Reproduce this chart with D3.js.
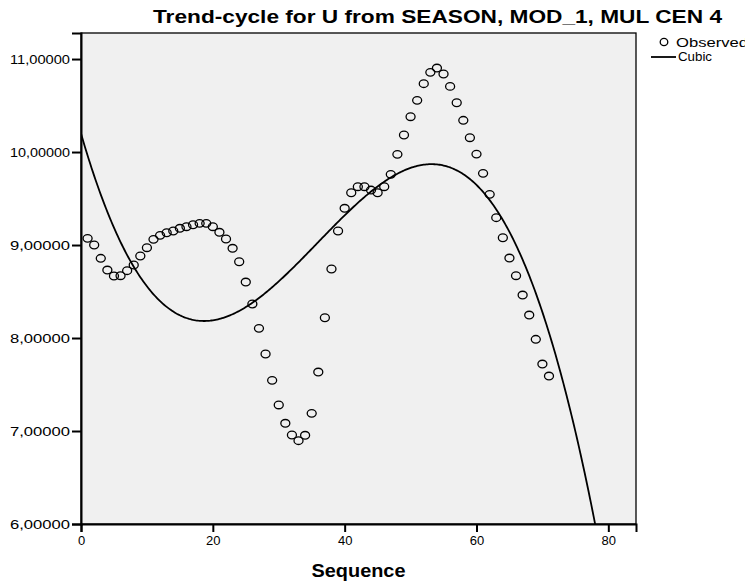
<!DOCTYPE html>
<html lang="en">
<head>
<meta charset="utf-8">
<title>Trend-cycle for U from SEASON, MOD_1, MUL CEN 4</title>
<script src="https://cdn.jsdelivr.net/npm/d3@7"></script>
<style>
  body { margin: 0; background: #fff; }
  text { font-family: "Liberation Sans", Arial, sans-serif; fill: #000; }
</style>
</head>
<body>
<script>
// chart values
var chartTitle = "Trend-cycle for U from SEASON, MOD_1, MUL CEN 4";
var xTitle = "Sequence";
var seriesNames = ["Observed", "Cubic"];
var xTicks = [0, 20, 40, 60, 80];
var yTicks = [6, 7, 8, 9, 10, 11];

// trend-cycle values, sequence 1..71
var observed = [
  9.072, 9.000, 8.857, 8.731, 8.667, 8.670, 8.724, 8.785, 8.882, 8.971,
  9.061, 9.104, 9.132, 9.151, 9.180, 9.197, 9.218, 9.233, 9.233, 9.197,
  9.137, 9.065, 8.965, 8.820, 8.602, 8.366, 8.104, 7.828, 7.545, 7.280,
  7.083, 6.957, 6.896, 6.954, 7.190, 7.634, 8.218, 8.742, 9.151, 9.395,
  9.562, 9.627, 9.627, 9.591, 9.562, 9.627, 9.760, 9.975, 10.183, 10.380,
  10.556, 10.735, 10.857, 10.903, 10.839, 10.706, 10.530, 10.341, 10.154, 9.978,
  9.771, 9.545, 9.294, 9.078, 8.860, 8.670, 8.462, 8.247, 7.986, 7.720,
  7.591
];
var sequence = observed.map(function(d, i) { return i + 1; });

var w = 745, h = 581;
var plot = { left: 81, top: 33, right: 636, bottom: 524 };

var svg = d3.select("body").append("svg")
  .attr("width", w)
  .attr("height", h);

var x = d3.scaleLinear().domain([0, 84.2]).range([plot.left, plot.right]);
var y = d3.scaleLinear().domain([6, 11.28]).range([plot.bottom, plot.top]);

// least squares cubic, like the SPSS curve estimation
function cubicFit(xs, ys) {
  var A = [], b = [];
  for (var i = 0; i < 4; i++) {
    A.push([0, 0, 0, 0]);
    b.push(0);
  }
  xs.forEach(function(xv, k) {
    for (var i = 0; i < 4; i++) {
      b[i] += ys[k] * Math.pow(xv, i);
      for (var j = 0; j < 4; j++) A[i][j] += Math.pow(xv, i + j);
    }
  });
  // gaussian elimination
  for (var c = 0; c < 4; c++) {
    var p = c;
    for (var r = c + 1; r < 4; r++) if (Math.abs(A[r][c]) > Math.abs(A[p][c])) p = r;
    var t = A[c]; A[c] = A[p]; A[p] = t;
    t = b[c]; b[c] = b[p]; b[p] = t;
    for (var r = c + 1; r < 4; r++) {
      var f = A[r][c] / A[c][c];
      for (var j = c; j < 4; j++) A[r][j] -= f * A[c][j];
      b[r] -= f * b[c];
    }
  }
  var coef = [0, 0, 0, 0];
  for (var r = 3; r >= 0; r--) {
    var s = b[r];
    for (var j = r + 1; j < 4; j++) s -= A[r][j] * coef[j];
    coef[r] = s / A[r][r];
  }
  return coef;
}
var coef = cubicFit(sequence, observed);
function cubic(v) { return coef[0] + coef[1] * v + coef[2] * v * v + coef[3] * v * v * v; }

// plot background
svg.append("rect")
  .attr("x", plot.left).attr("y", plot.top)
  .attr("width", plot.right - plot.left)
  .attr("height", plot.bottom - plot.top)
  .attr("fill", "#f0f0f0");

svg.append("clipPath").attr("id", "clip")
  .append("rect")
  .attr("x", plot.left).attr("y", plot.top)
  .attr("width", plot.right - plot.left)
  .attr("height", plot.bottom - plot.top);

// cubic line across the whole axis range
var curveX = d3.range(0, 84.3, 0.2);
var line = d3.line()
  .x(function(d) { return x(d); })
  .y(function(d) { return y(cubic(d)); });

svg.append("path")
  .datum(curveX)
  .attr("clip-path", "url(#clip)")
  .attr("d", line)
  .attr("fill", "none")
  .attr("stroke", "#000")
  .attr("stroke-width", 1.8);

// observed points
svg.append("g")
  .attr("clip-path", "url(#clip)")
  .selectAll("ellipse")
  .data(observed)
  .enter()
  .append("ellipse")
  .attr("cx", function(d, i) { return x(sequence[i]); })
  .attr("cy", function(d) { return y(d); })
  .attr("rx", 4.5)
  .attr("ry", 3.8)
  .attr("fill", "none")
  .attr("stroke", "#000")
  .attr("stroke-width", 1.3);

// frame
svg.append("rect")
  .attr("x", plot.left).attr("y", plot.top)
  .attr("width", plot.right - plot.left)
  .attr("height", plot.bottom - plot.top)
  .attr("fill", "none")
  .attr("stroke", "#000")
  .attr("stroke-width", 1.3);

// axes
var fmt = d3.format(".5f");
var yAxis = d3.axisLeft(y)
  .tickValues(yTicks)
  .tickSize(9)
  .tickPadding(2)
  .tickFormat(function(d) { return fmt(d).replace(".", ","); });
var xAxis = d3.axisBottom(x)
  .tickValues(xTicks)
  .tickSize(8)
  .tickPadding(4);

var gy = svg.append("g")
  .attr("transform", "translate(" + plot.left + ",0)")
  .call(yAxis);
var gx = svg.append("g")
  .attr("transform", "translate(0," + plot.bottom + ")")
  .call(xAxis);

[gx, gy].forEach(function(g) {
  g.select(".domain").attr("stroke", "#000").attr("stroke-width", 2);
  g.selectAll(".tick line").attr("stroke", "#000").attr("stroke-width", 2);
  g.selectAll(".tick text")
    .attr("font-family", "'Liberation Sans', Arial, sans-serif")
    .attr("font-size", 13)
    .attr("fill", "#000");
});
gy.selectAll(".tick text")
  .attr("font-size", 12.5)
  .attr("textLength", 60)
  .attr("lengthAdjust", "spacingAndGlyphs");

// titles
svg.append("text")
  .attr("x", 153).attr("y", 23)
  .attr("font-size", 17.5)
  .attr("font-weight", "bold")
  .attr("textLength", 569)
  .attr("lengthAdjust", "spacingAndGlyphs")
  .text(chartTitle);

svg.append("text")
  .attr("x", (plot.left + plot.right) / 2).attr("y", 577)
  .attr("text-anchor", "middle")
  .attr("font-size", 17.5)
  .attr("font-weight", "bold")
  .attr("textLength", 94)
  .attr("lengthAdjust", "spacingAndGlyphs")
  .text(xTitle);

// legend
var legend = svg.append("g");
legend.append("ellipse")
  .attr("cx", 664).attr("cy", 42)
  .attr("rx", 3.8).attr("ry", 3.6)
  .attr("fill", "none").attr("stroke", "#000").attr("stroke-width", 1.3);
legend.append("text")
  .attr("x", 676).attr("y", 47)
  .attr("font-size", 12)
  .attr("textLength", 72)
  .attr("lengthAdjust", "spacingAndGlyphs")
  .text(seriesNames[0]);
legend.append("line")
  .attr("x1", 651).attr("x2", 676)
  .attr("y1", 57).attr("y2", 57)
  .attr("stroke", "#000").attr("stroke-width", 1.8);
legend.append("text")
  .attr("x", 678).attr("y", 61)
  .attr("font-size", 12)
  .attr("textLength", 34)
  .attr("lengthAdjust", "spacingAndGlyphs")
  .text(seriesNames[1]);
</script>
</body>
</html>
